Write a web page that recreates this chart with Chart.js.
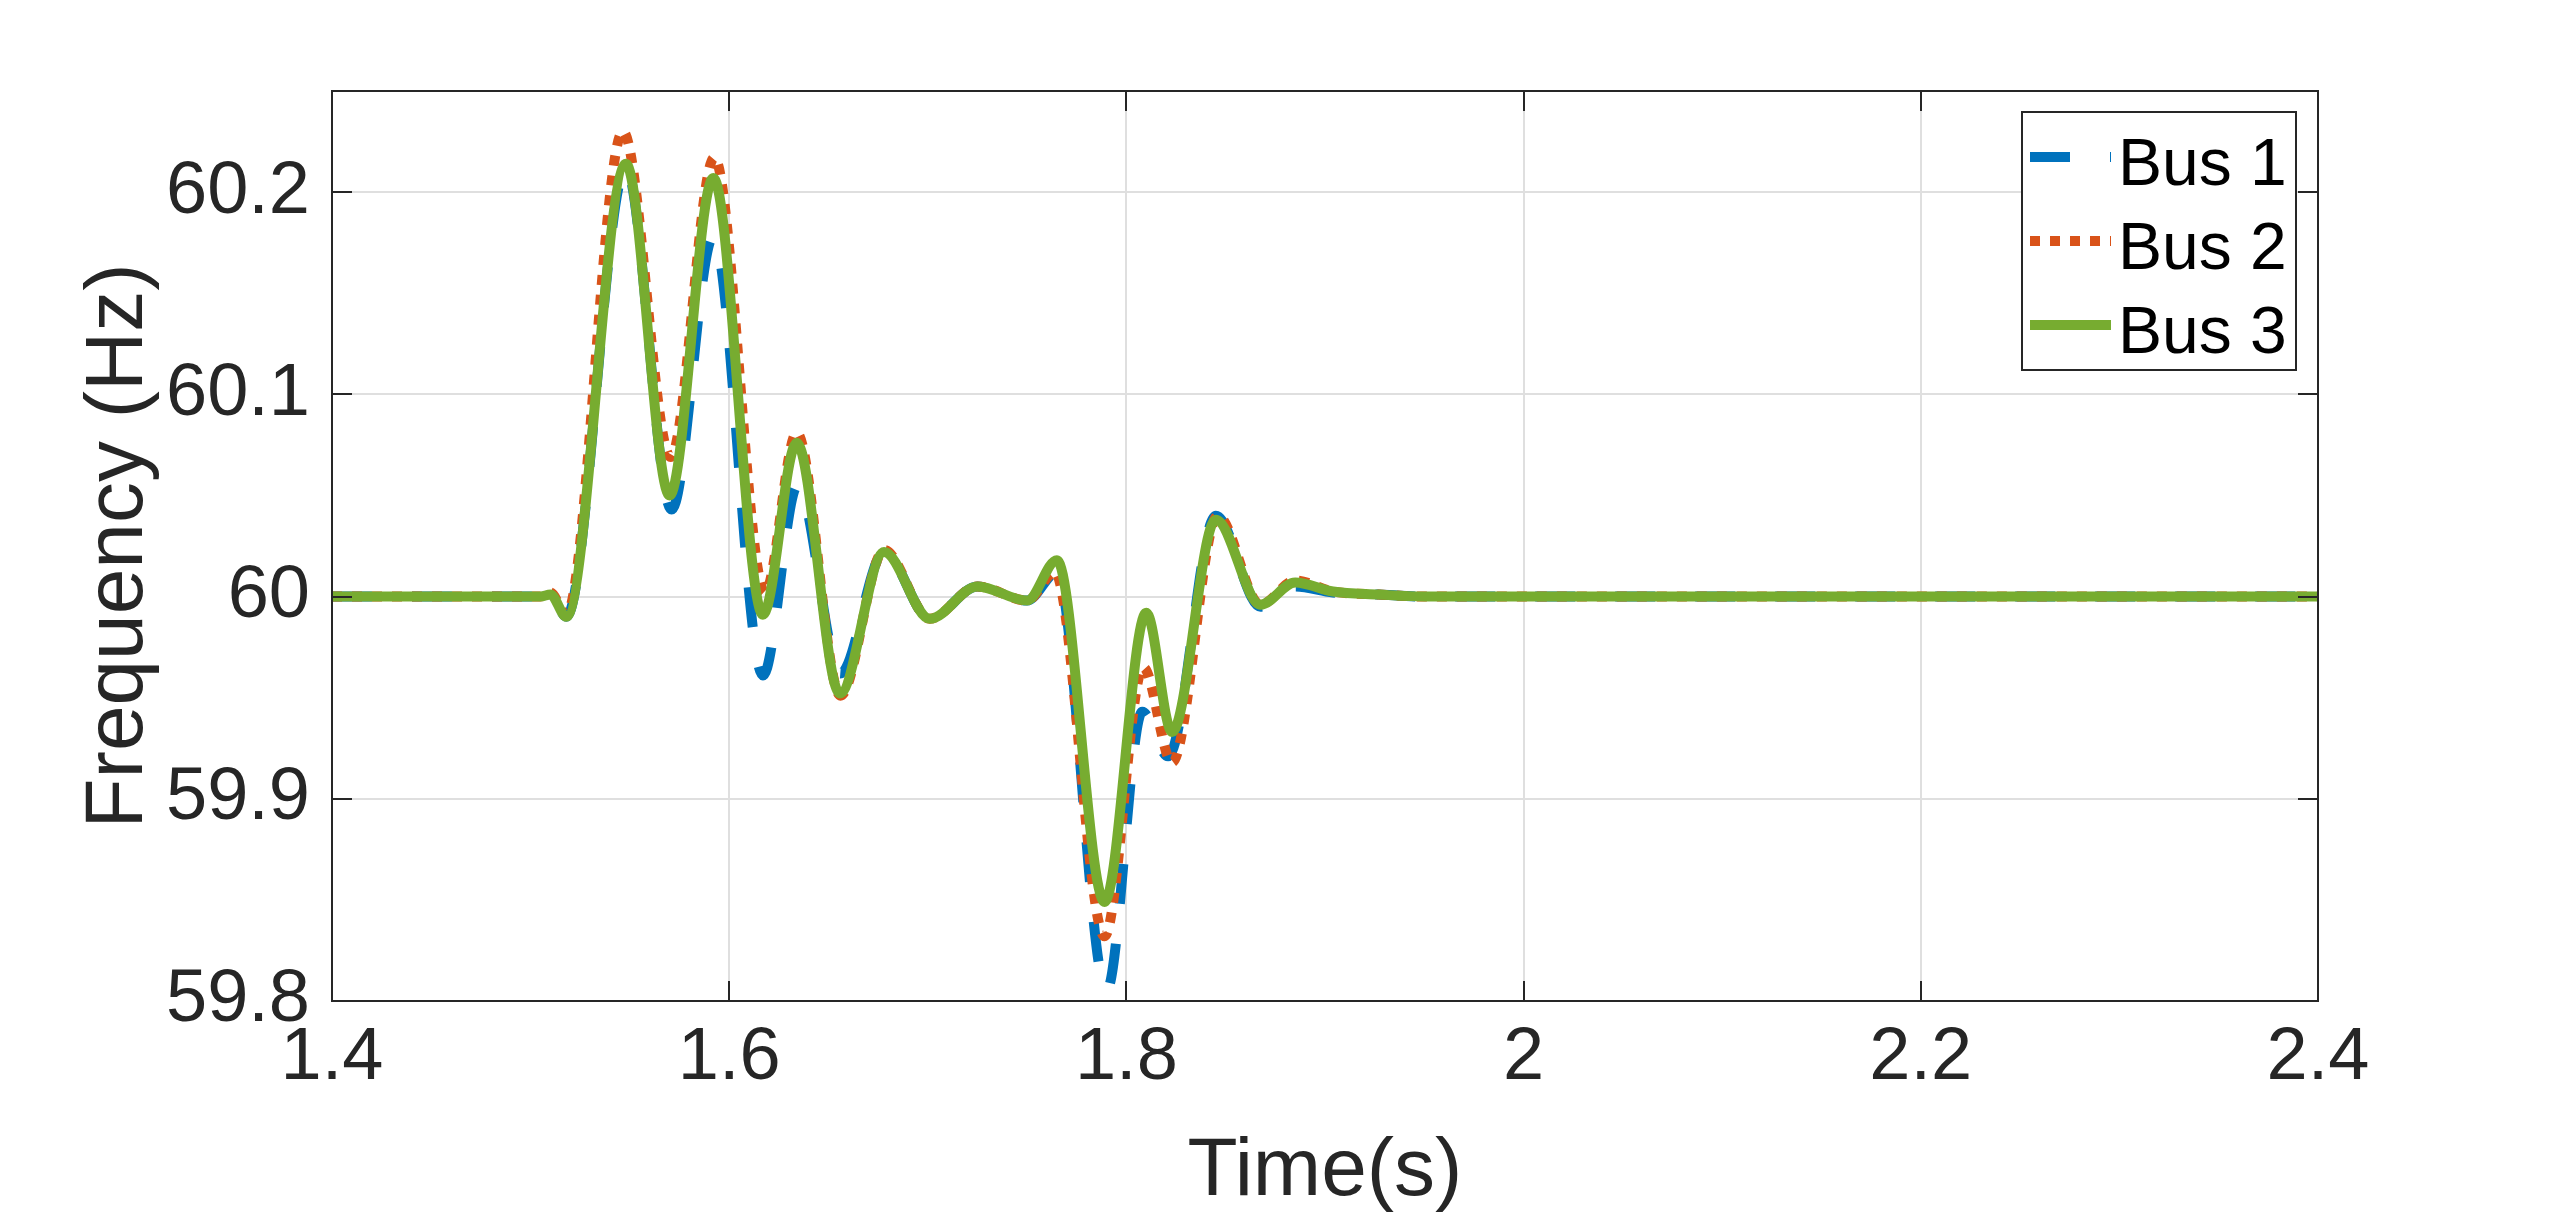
<!DOCTYPE html>
<html>
<head>
<meta charset="utf-8">
<title>Bus frequency</title>
<script src="https://cdn.jsdelivr.net/npm/chart.js@4.4.1/dist/chart.umd.min.js"></script>
<style>
  html, body { margin: 0; padding: 0; background: #fff; }
  canvas { display: block; }
</style>
</head>
<body>
<canvas id="freqChart" width="2560" height="1220"></canvas>
<script>
// values (time in s, frequency in Hz), mostly at the extrema
const busTime1 = [1.40, 1.505, 1.510, 1.518, 1.548, 1.571, 1.592, 1.617, 1.6345, 1.656, 1.678, 1.701, 1.725, 1.750, 1.765, 1.790, 1.808, 1.821, 1.845, 1.8675, 1.885, 1.904, 1.927, 1.950, 2.40];
const busFreq1 = [60.000, 60.000, 60.001, 59.990, 60.212, 60.043, 60.178, 59.961, 60.055, 59.962, 60.022, 59.989, 60.005, 59.998, 60.012, 59.805, 59.943, 59.921, 60.040, 59.995, 60.005, 60.002, 60.001, 60.000, 60.000];

const busTime2 = [1.40, 1.505, 1.510, 1.518, 1.5465, 1.5705, 1.5925, 1.618, 1.634, 1.656, 1.678, 1.701, 1.725, 1.750, 1.764, 1.789, 1.8085, 1.823, 1.846, 1.8675, 1.885, 1.904, 1.927, 1.950, 2.40];
const busFreq2 = [60.000, 60.000, 60.002, 59.991, 60.230, 60.069, 60.217, 60.002, 60.081, 59.951, 60.023, 59.989, 60.005, 59.998, 60.012, 59.832, 59.965, 59.918, 60.040, 59.996, 60.008, 60.0025, 60.001, 60.000, 60.000];

const busTime3 = [1.40, 1.505, 1.510, 1.518, 1.548, 1.570, 1.592, 1.617, 1.634, 1.6557, 1.678, 1.701, 1.725, 1.750, 1.765, 1.789, 1.810, 1.823, 1.845, 1.8675, 1.885, 1.904, 1.927, 1.950, 2.40];
const busFreq3 = [60.000, 60.000, 60.001, 59.990, 60.214, 60.050, 60.207, 59.991, 60.076, 59.952, 60.022, 59.989, 60.005, 59.998, 60.018, 59.849, 59.992, 59.933, 60.038, 59.996, 60.007, 60.0025, 60.001, 60.000, 60.000];

const seriesNames = ['Bus 1', 'Bus 2', 'Bus 3'];

const xTicks = [1.4, 1.6, 1.8, 2.0, 2.2, 2.4];
const xTickLabels = ['1.4', '1.6', '1.8', '2', '2.2', '2.4'];
const yTicks = [59.8, 59.9, 60.0, 60.1, 60.2];
const yTickLabels = ['59.8', '59.9', '60', '60.1', '60.2'];

const fontFamily = "'Liberation Sans', Arial, Helvetica, sans-serif";
const axisColor = '#262626';
const gridColor = '#dfdfdf';

function toPoints(ts, fs) {
    return ts.map((t, i) => ({ x: t, y: fs[i] }));
}

// MATLAB-style box, inward tick marks and legend
const matlabAxes = {
    id: 'matlabAxes',
    afterDatasetsDraw(chart) {
        const { ctx, chartArea: a, scales } = chart;
        const tickLen = 20;
        ctx.save();
        ctx.strokeStyle = axisColor;
        ctx.lineWidth = 2;
        ctx.beginPath();
        xTicks.forEach(v => {
            const px = Math.round(scales.x.getPixelForValue(v));
            ctx.moveTo(px, a.bottom);
            ctx.lineTo(px, a.bottom - tickLen);
            ctx.moveTo(px, a.top);
            ctx.lineTo(px, a.top + tickLen);
        });
        yTicks.forEach(v => {
            const py = Math.round(scales.y.getPixelForValue(v));
            ctx.moveTo(a.left, py);
            ctx.lineTo(a.left + tickLen, py);
            ctx.moveTo(a.right, py);
            ctx.lineTo(a.right - tickLen, py);
        });
        ctx.stroke();
        ctx.strokeRect(a.left, a.top, a.right - a.left, a.bottom - a.top);
        ctx.restore();
    },
    afterDraw(chart) {
        const { ctx, chartArea: a } = chart;
        const boxW = 274, boxH = 258;
        const boxX = a.right - 22 - boxW;
        const boxY = a.top + 21;
        ctx.save();
        ctx.fillStyle = '#fff';
        ctx.fillRect(boxX, boxY, boxW, boxH);
        ctx.strokeStyle = axisColor;
        ctx.lineWidth = 2;
        ctx.strokeRect(boxX, boxY, boxW, boxH);
        chart.data.datasets.forEach((ds, i) => {
            const rowY = boxY + 45 + i * 84;
            ctx.beginPath();
            ctx.strokeStyle = ds.borderColor;
            ctx.lineWidth = ds.borderWidth;
            ctx.lineCap = 'butt';
            ctx.setLineDash(ds.borderDash || []);
            ctx.moveTo(boxX + 8, rowY);
            ctx.lineTo(boxX + 89, rowY);
            ctx.stroke();
            ctx.setLineDash([]);
            ctx.fillStyle = '#000';
            ctx.font = `66px ${fontFamily}`;
            ctx.textAlign = 'left';
            ctx.textBaseline = 'alphabetic';
            ctx.fillText(ds.label, boxX + 96, rowY + 28);
        });
        ctx.restore();
    }
};

new Chart(document.getElementById('freqChart').getContext('2d'), {
    type: 'line',
    data: {
        datasets: [
            {
                label: seriesNames[0],
                data: toPoints(busTime1, busFreq1),
                borderColor: '#0072BD',
                borderWidth: 10,
                borderDash: [40, 40],
                order: 3
            },
            {
                label: seriesNames[1],
                data: toPoints(busTime2, busFreq2),
                borderColor: '#D95319',
                borderWidth: 10,
                borderDash: [10, 10],
                order: 2
            },
            {
                label: seriesNames[2],
                data: toPoints(busTime3, busFreq3),
                borderColor: '#77AC30',
                borderWidth: 10,
                order: 1
            }
        ]
    },
    options: {
        responsive: false,
        animation: false,
        events: [],
        layout: { padding: { left: 0, right: 242, top: 91, bottom: 0 } },
        elements: {
            point: { radius: 0 },
            line: { cubicInterpolationMode: 'monotone', borderCapStyle: 'butt', borderJoinStyle: 'round', fill: false }
        },
        plugins: {
            legend: { display: false },
            tooltip: { enabled: false }
        },
        scales: {
            x: {
                type: 'linear',
                min: 1.4,
                max: 2.4,
                afterFit: s => { s.height = 219; },
                afterBuildTicks: s => { s.ticks = xTicks.map(v => ({ value: v })); },
                grid: { color: gridColor, lineWidth: 2, drawTicks: false },
                border: { display: false },
                ticks: {
                    padding: 13,
                    color: axisColor,
                    maxRotation: 0,
                    autoSkip: false,
                    font: { family: fontFamily, size: 74 },
                    callback: (v, i) => xTickLabels[i]
                },
                title: {
                    display: true,
                    text: 'Time(s)',
                    color: axisColor,
                    font: { family: fontFamily, size: 82, lineHeight: 1 },
                    padding: { top: 0, bottom: 7 }
                }
            },
            y: {
                type: 'linear',
                min: 59.8,
                max: 60.25,
                afterFit: s => { s.width = 332; },
                afterBuildTicks: s => { s.ticks = yTicks.map(v => ({ value: v })); },
                grid: { color: gridColor, lineWidth: 2, drawTicks: false },
                border: { display: false },
                ticks: {
                    padding: 22,
                    color: axisColor,
                    autoSkip: false,
                    font: { family: fontFamily, size: 74 },
                    callback: (v, i) => yTickLabels[i]
                },
                title: {
                    display: true,
                    text: 'Frequency (Hz)',
                    color: axisColor,
                    font: { family: fontFamily, size: 82, lineHeight: 1 },
                    padding: { top: 78, bottom: 0 }
                }
            }
        }
    },
    plugins: [matlabAxes]
});
</script>
</body>
</html>
